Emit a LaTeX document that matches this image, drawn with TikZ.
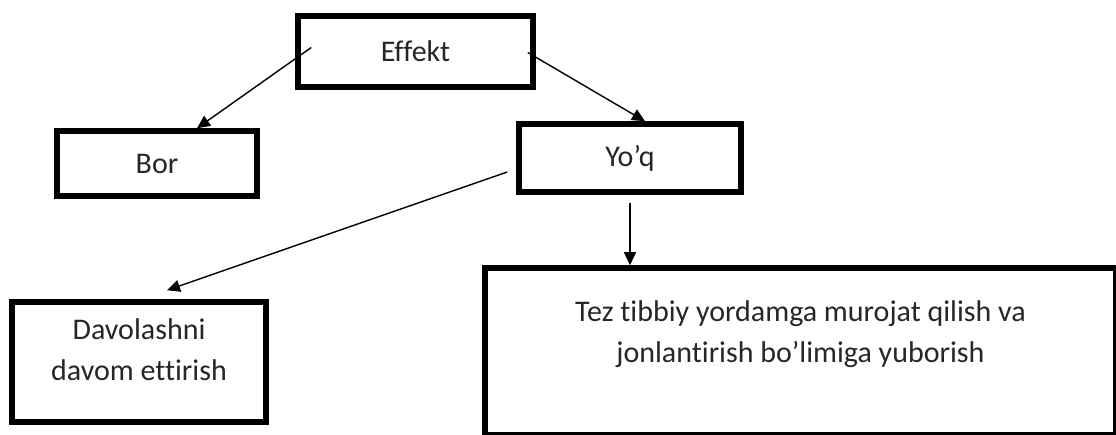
\documentclass[tikz,border=0pt]{standalone}
\usepackage{fontspec}
\setmainfont{Carlito}[RawFeature={-liga}]
\usetikzlibrary{arrows.meta}

\begin{document}
\begin{tikzpicture}[x=1pt,y=-1pt,
	box/.style={draw, line width=5.5pt, rectangle, align=center, text=black!85,
		font=\fontsize{30}{41}\selectfont},
	arr/.style={-{Triangle[length=13pt,width=12pt]}, line width=1.4pt}]

	% The frame
	\useasboundingbox (0,0) rectangle (1116,435);
	\clip (0,0) rectangle (1116,435);

	% Boxes
	\node[box, minimum width=235pt, minimum height=71pt] (effekt) at (415.5,51.5) {Effekt};
	\node[box, minimum width=200pt, minimum height=65pt] (bor) at (157,163.5) {Bor};
	\node[box, minimum width=222pt, minimum height=68pt] (yoq) at (630,158) {Yo’q};
	\node[box, minimum width=254pt, minimum height=120pt, text depth=25pt] (davom) at (139,362)
		{Davolashni\\davom ettirish};
	\node[box, minimum width=631pt, minimum height=167pt, text depth=39pt] (tez) at (800.5,351.5)
		{Tez tibbiy yordamga murojat qilish va\\jonlantirish bo’limiga yuborish};

	% Arrows
	\draw[arr] ([shift={(16,-4)}]effekt.west) -- ([xshift=40pt]bor.north);
	\draw[arr] ([shift={(-8,1)}]effekt.east) -- ([xshift=15pt]yoq.north);
	\draw[arr] ([shift={(-9,14)}]yoq.west) -- ([shift={(28,-9)}]davom.north);
	\draw[arr] ([yshift=-8pt]yoq.south) -- (yoq.south |- tez.north);

\end{tikzpicture}
\end{document}
